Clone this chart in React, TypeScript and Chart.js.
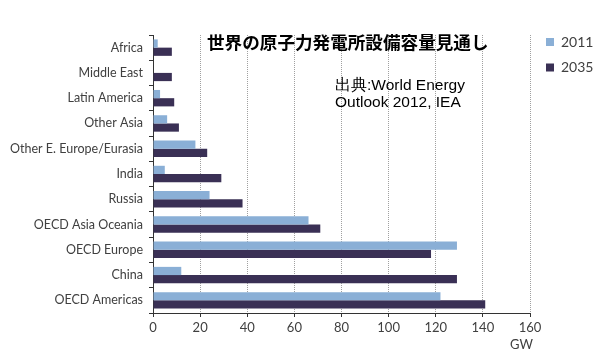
import React, { useEffect, useRef } from "react";
import { Chart, registerables } from "chart.js";

Chart.register(...registerables);

const categories = [
  "Africa",
  "Middle East",
  "Latin America",
  "Other Asia",
  "Other E. Europe/Eurasia",
  "India",
  "Russia",
  "OECD Asia Oceania",
  "OECD Europe",
  "China",
  "OECD Americas",
];
const values2011 = [2, 0, 3, 6, 18, 5, 24, 66, 129, 12, 122];
const values2035 = [8, 8, 9, 11, 23, 29, 38, 71, 118, 129, 141];
const seriesLabels = ["2011", "2035"];
const xTicks = [0, 20, 40, 60, 80, 100, 120, 140, 160];
const titleText = "世界の原子力発電所設備容量見通し";
const sourceLines = ["出典:World Energy", "Outlook 2012, IEA"];
const unitText = "GW";

const COLOR_2011 = "#8aafd6";
const COLOR_2035 = "#3a3055";
const TEXT = "#404040";

const overlay = {
  id: "overlay",
  afterDraw(chart: any) {
    const ctx = chart.ctx;
    ctx.save();
    // title
    ctx.fillStyle = "#000";
    ctx.font = "bold 17.6px 'Noto Sans CJK JP'";
    ctx.textBaseline = "middle";
    ctx.textAlign = "left";
    ctx.fillText(titleText, 207, 42);
    // source
    ctx.font = "15.5px 'Liberation Sans'";
    ctx.fillText(sourceLines[0], 335, 86);
    ctx.fillText(sourceLines[1], 335, 103);
    // legend
    const colors = [COLOR_2011, COLOR_2035];
    ctx.font = "14px Lato";
    seriesLabels.forEach((l, i) => {
      const y = 42 + i * 25.5;
      ctx.fillStyle = colors[i];
      ctx.fillRect(546, y - 4, 8, 8);
      ctx.fillStyle = TEXT;
      ctx.fillText(l, 561, y);
    });
    // unit
    ctx.fillStyle = TEXT;
    ctx.font = "13px Lato";
    ctx.textAlign = "left";
    ctx.fillText(unitText, 510, 345);
    ctx.restore();
  },
};

export default function App() {
  const ref = useRef<HTMLCanvasElement | null>(null);
  useEffect(() => {
    if (!ref.current) return;
    const chart = new Chart(ref.current, {
      type: "bar",
      data: {
        labels: categories,
        datasets: [
          {
            label: seriesLabels[0],
            data: values2011,
            backgroundColor: COLOR_2011,
            borderWidth: 0,
            categoryPercentage: 0.65,
            barPercentage: 1,
          },
          {
            label: seriesLabels[1],
            data: values2035,
            backgroundColor: COLOR_2035,
            borderWidth: 0,
            categoryPercentage: 0.65,
            barPercentage: 1,
          },
        ],
      },
      options: {
        indexAxis: "y",
        animation: false,
        responsive: true,
        maintainAspectRatio: false,
        layout: { padding: { left: 0, right: 70, top: 35, bottom: 0 } },
        plugins: {
          legend: { display: false },
          title: { display: false },
          tooltip: { enabled: false },
        },
        scales: {
          x: {
            min: 0,
            max: 160,
            afterFit: (s: any) => {
              s.height = 47;
            },
            afterBuildTicks: (s: any) => {
              s.ticks = xTicks.map((v) => ({ value: v }));
            },
            ticks: {
              color: TEXT,
              font: { family: "Lato", size: 13 },
              padding: 3,
              maxRotation: 0,
            },
            grid: {
              color: "#a0a0a0",
              drawTicks: true,
              tickLength: 4,
              tickColor: "#333",
              tickBorderDash: [],
            },
            border: { display: true, color: "#333", width: 1, dash: [1, 1] },
          },
          y: {
            afterFit: (s: any) => {
              s.width = 153;
            },
            ticks: {
              color: TEXT,
              font: { family: "Lato", size: 12.5 },
              padding: 6,
            },
            grid: {
              offset: true,
              drawOnChartArea: false,
              drawTicks: true,
              tickLength: 4,
              tickColor: "#333",
            },
            border: { display: true, color: "#333", width: 1 },
          },
        },
      },
      plugins: [overlay],
    });
    return () => chart.destroy();
  }, []);
  return (
    <div style={{ position: "absolute", left: 0, top: 0, width: 600, height: 360, background: "#fff" }}>
      <canvas ref={ref} />
    </div>
  );
}
